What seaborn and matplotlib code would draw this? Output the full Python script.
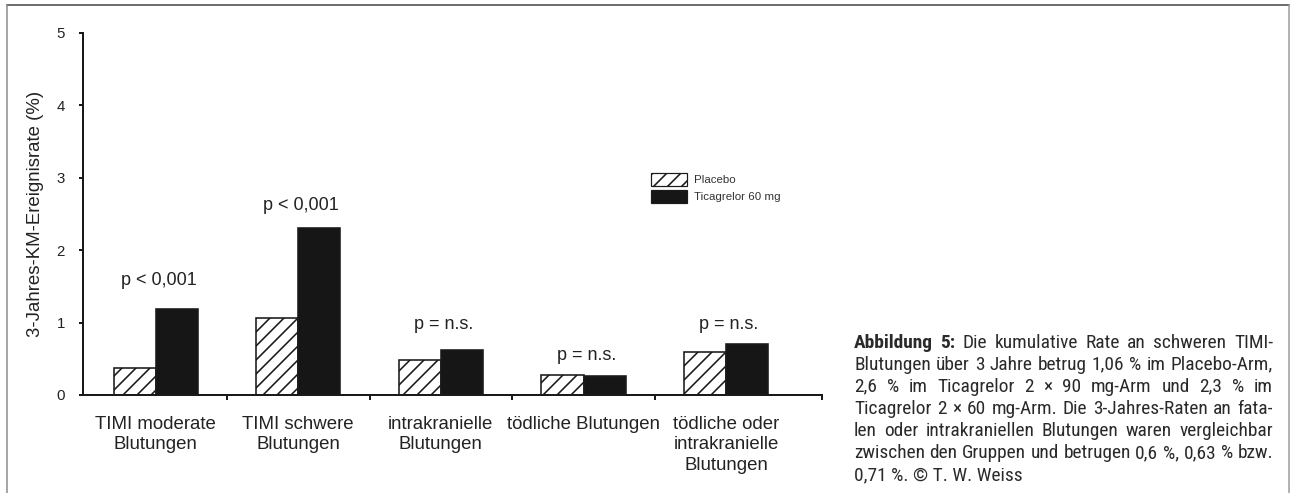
import matplotlib
matplotlib.use("Agg")
import matplotlib.pyplot as plt
from matplotlib import font_manager
from matplotlib.lines import Line2D
from matplotlib.patches import Patch
import seaborn as sns
import pandas as pd

# ---- data ----
categories = [
    "TIMI moderate\nBlutungen",
    "TIMI schwere\nBlutungen",
    "intrakranielle\nBlutungen",
    "tödliche Blutungen",
    "tödliche oder\nintrakranielle\nBlutungen",
]
groups = ["Placebo", "Ticagrelor 60 mg"]
placebo = [0.37, 1.06, 0.48, 0.275, 0.60]
ticagrelor = [1.19, 2.30, 0.62, 0.26, 0.71]
p_labels = ["p < 0,001", "p < 0,001", "p = n.s.", "p = n.s.", "p = n.s."]
y_ticks = [0, 1, 2, 3, 4, 5]
y_label = "3-Jahres-KM-Ereignisrate (%)"

caption_lines = [
    "Abbildung 5: Die kumulative Rate an schweren TIMI-",
    "Blutungen über 3 Jahre betrug 1,06 % im Placebo-Arm,",
    "2,6 % im Ticagrelor 2 × 90 mg-Arm und 2,3 % im",
    "Ticagrelor 2 × 60 mg-Arm. Die 3-Jahres-Raten an fata-",
    "len oder intrakraniellen Blutungen waren vergleichbar",
    "zwischen den Gruppen und betrugen 0,6 %, 0,63 % bzw.",
    "0,71 %. © T. W. Weiss",
]
caption_bold_words = 2  # "Abbildung 5:"

# ---- layout (pixels) ----
# dpi 126 so that the '///' hatch comes out at ~14 px spacing like the original
W, H, DPI = 1291, 493, 126
INK = "#222222"
BAR_EDGE = "#1a1a1a"


def pt(v):
    """pixels -> points at the figure dpi"""
    return v * 72 / DPI


sns.set_style("white")
plt.rcParams["font.family"] = ["Liberation Sans", "DejaVu Sans"]
plt.rcParams["hatch.linewidth"] = pt(1.6)
plt.rcParams["hatch.color"] = BAR_EDGE


def pick_caption_font():
    """look for a narrow sans for the caption (original uses a condensed grotesk)"""
    fonts = font_manager.fontManager.ttflist
    names = {f.name for f in fonts}
    for cand in ["Liberation Sans Narrow", "Arial Narrow", "DejaVu Sans Condensed",
                 "Roboto Condensed", "Open Sans Condensed", "Noto Sans Condensed"]:
        if cand in names:
            return cand, "normal"
    for f in fonts:
        if "Narrow" in f.name or "Condensed" in f.name:
            return f.name, "normal"
    for f in fonts:
        st = f.stretch
        if isinstance(st, str) and "condensed" in st and "extra" not in st and "ultra" not in st:
            return f.name, st
    return "Liberation Sans", "normal"


CAPTION_FONT, CAPTION_STRETCH = pick_caption_font()
CAP_FAMILY = [CAPTION_FONT, "DejaVu Sans"]

df = pd.DataFrame({
    "Kategorie": categories * 2,
    "Gruppe": [groups[0]] * len(categories) + [groups[1]] * len(categories),
    "Rate": placebo + ticagrelor,
})

fig = plt.figure(figsize=(W / DPI, H / DPI), dpi=DPI)
fig.patch.set_facecolor("white")
ax_l, ax_r, ax_t, ax_b = 83, 822, 33, 395
ax = fig.add_axes([ax_l / W, (H - ax_b) / H, (ax_r - ax_l) / W, (ax_b - ax_t) / H])

sns.barplot(data=df, x="Kategorie", y="Rate", hue="Gruppe", hue_order=groups,
            palette={groups[0]: "white", groups[1]: "#161616"}, saturation=1,
            width=0.59, gap=0, edgecolor=BAR_EDGE, linewidth=pt(1.6),
            legend=False, ax=ax)
for bar in ax.containers[0]:
    bar.set_hatch("///")

# category spacing 142.6 px, first centre at 155.7 px
step = 142.6
x_min = (ax_l - 155.7) / step
x_max = (ax_r - 155.7) / step
ax.set_xlim(x_min, x_max)
ax.set_ylim(0, 5)
ax.set_yticks(y_ticks)
ax.set_yticklabels([str(v) for v in y_ticks])
ax.set_xlabel("")
ax.set_ylabel(y_label, fontsize=pt(18.6), color=INK, labelpad=pt(12))

ax.set_xticks(range(len(categories)))
ax.set_xticklabels(categories, fontsize=pt(18.6), color=INK, linespacing=1.25)
ax.set_xticks([i + 0.5 for i in range(len(categories) - 1)] + [x_max - 1e-3], minor=True)
ax.tick_params(axis="x", which="major", length=0, pad=pt(21))
ax.tick_params(axis="x", which="minor", length=pt(5), width=pt(2), color=BAR_EDGE,
               direction="out", bottom=True)
ax.tick_params(axis="y", length=pt(4), width=pt(2), color=BAR_EDGE, direction="out",
               pad=pt(14), labelsize=pt(15), labelcolor=INK, left=True)

for side in ["top", "right"]:
    ax.spines[side].set_visible(False)
for side in ["left", "bottom"]:
    ax.spines[side].set_linewidth(pt(2))
    ax.spines[side].set_color(BAR_EDGE)

# p-value annotations above each group
p_offsets = [0.33, 0.26, 0.29, 0.21, 0.20]
for i, lab in enumerate(p_labels):
    top = max(placebo[i], ticagrelor[i])
    ax.text(i + 0.02, top + p_offsets[i], lab, ha="center", va="baseline",
            fontsize=pt(18), color=INK)

# legend
handles = [
    Patch(facecolor="white", edgecolor=BAR_EDGE, hatch="///", linewidth=pt(1.2)),
    Patch(facecolor="#161616", edgecolor=BAR_EDGE, linewidth=pt(1.2)),
]
fig.legend(handles, groups, loc="upper left", bbox_to_anchor=(651 / W, 1 - 173 / H),
           frameon=False, borderpad=0, borderaxespad=0, fontsize=pt(11.5),
           handlelength=3.1, handleheight=1.3, labelspacing=0.4, handletextpad=0.6,
           labelcolor="#333333")

# frame around the whole picture
fl, fr, ft = 6.7, 1289, 4.7
fig.add_artist(Line2D([fl / W, fr / W], [1 - ft / H, 1 - ft / H], color="#707070",
                      lw=pt(2), transform=fig.transFigure))
fig.add_artist(Line2D([fl / W, fl / W], [0, 1 - ft / H], color="#8a8a8a",
                      lw=pt(1.5), transform=fig.transFigure))
fig.add_artist(Line2D([fr / W, fr / W], [0, 1 - ft / H], color="#9a9a9a",
                      lw=pt(1.5), transform=fig.transFigure))

# ---- justified caption ----
cap_left, cap_right = 854, 1273
cap_base0, cap_pitch = 347.7, 22.05
fig.canvas.draw()
renderer = fig.canvas.get_renderer()


def measure(s, size, weight="normal"):
    t = fig.text(0, 0, s, fontsize=size, fontweight=weight, family=CAP_FAMILY,
                 fontstretch=CAPTION_STRETCH)
    w = t.get_window_extent(renderer).width
    t.remove()
    return w


def line_words(idx):
    words = caption_lines[idx].split(" ")
    return [(w, "bold" if idx == 0 and k < caption_bold_words else "normal")
            for k, w in enumerate(words)]


# pick a caption size so the tightest line just fits the column width
size0 = pt(19)
space0 = measure("a a", size0) - measure("aa", size0)
natural = []
for i in range(len(caption_lines) - 1):
    ws = line_words(i)
    natural.append(sum(measure(w, size0, wt) for w, wt in ws) + space0 * (len(ws) - 1))
cap_size = min(size0 * (cap_right - cap_left) / max(natural), pt(20))

for i in range(len(caption_lines)):
    y = 1 - (cap_base0 + i * cap_pitch) / H
    if i == len(caption_lines) - 1:
        fig.text(cap_left / W, y, caption_lines[i], fontsize=cap_size, va="baseline",
                 color="#2a2a2a", family=CAP_FAMILY, fontstretch=CAPTION_STRETCH)
        continue
    ws = line_words(i)
    widths = [measure(w, cap_size, wt) for w, wt in ws]
    gap = (cap_right - cap_left - sum(widths)) / (len(ws) - 1)
    x = cap_left
    for (w, wt), wd in zip(ws, widths):
        fig.text(x / W, y, w, fontsize=cap_size, fontweight=wt, va="baseline",
                 color="#2a2a2a", family=CAP_FAMILY, fontstretch=CAPTION_STRETCH)
        x += wd + gap

fig.savefig("out.png", dpi=DPI, facecolor="white")
